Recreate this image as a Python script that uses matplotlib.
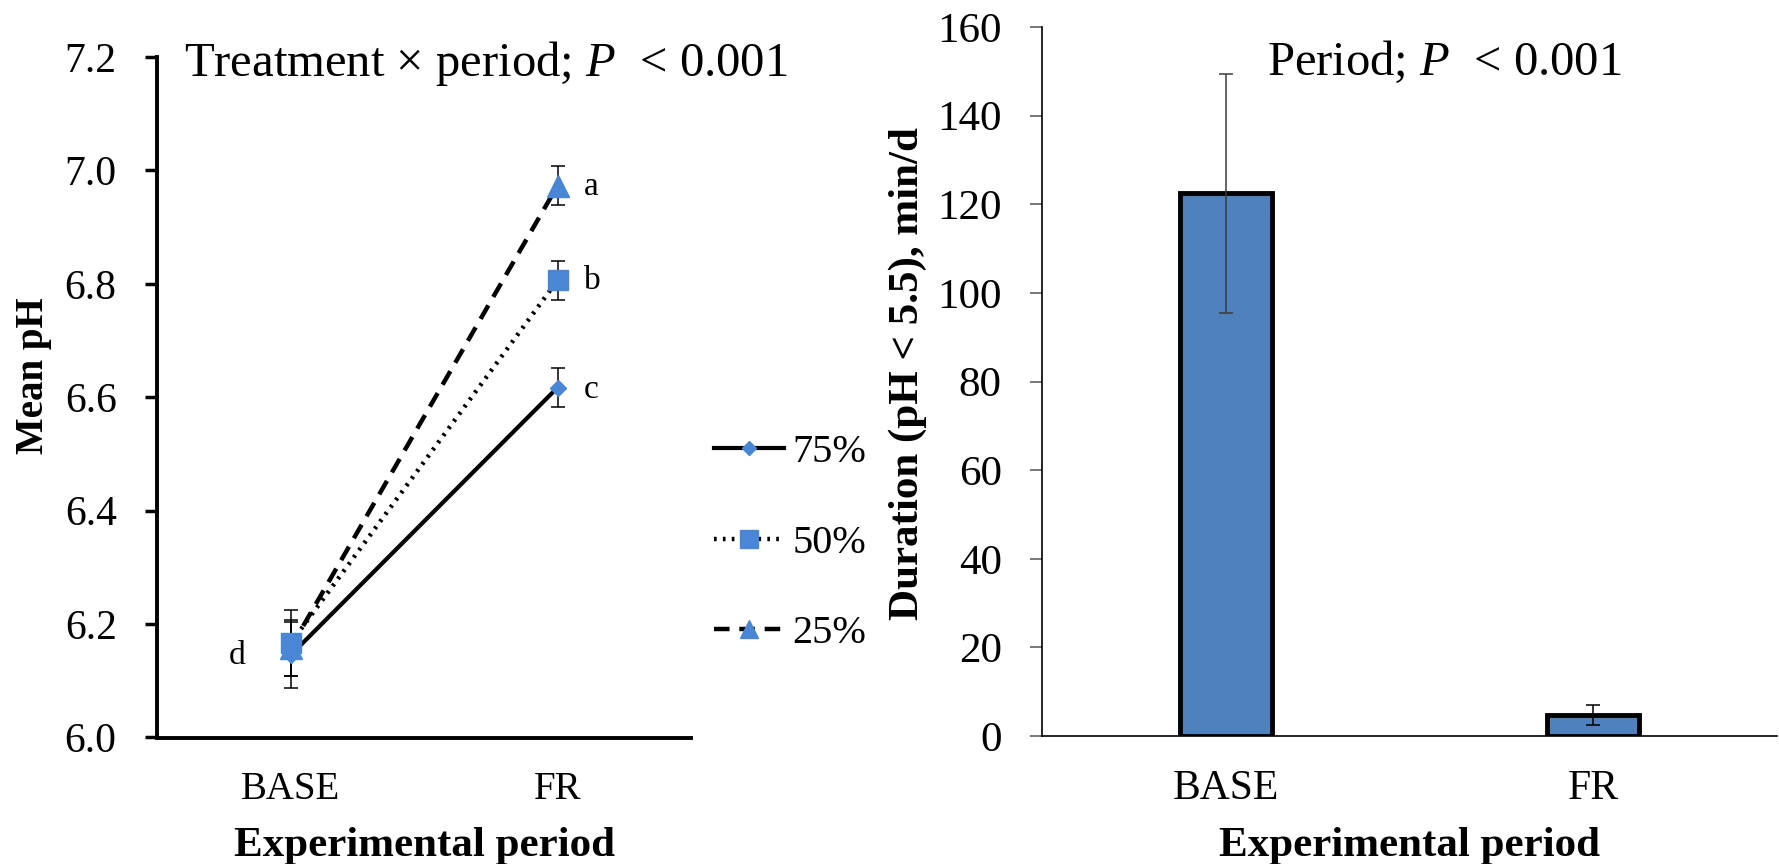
"""Ruminal pH by treatment and period: mean pH lines + duration below pH 5.5 bars."""
import matplotlib as mpl
import matplotlib.pyplot as plt
import numpy as np

BLUE_MARK = "#4A86D6"
BLUE_BAR = "#4F81BD"

mpl.rcParams.update(
    {
        "font.family": ["Liberation Serif", "DejaVu Serif"],
        "mathtext.fontset": "custom",
        "mathtext.rm": "Liberation Serif",
        "mathtext.it": "Liberation Serif:italic",
        "axes.spines.top": False,
        "axes.spines.right": False,
    }
)

# left panel: mean pH
periods = ["BASE", "FR"]
treatments = ["75%", "50%", "25%"]
ph_mean = {"75%": [6.145, 6.617], "50%": [6.166, 6.806], "25%": [6.158, 6.973]}
ph_err = {"75%": [0.058, 0.035], "50%": [0.058, 0.034], "25%": [0.050, 0.034]}
letters = ["a", "b", "c", "d"]
letter_y = [6.972, 6.806, 6.614, 6.144]

# right panel: duration pH < 5.5
dur_mean = [122.5, 4.8]
dur_err = [27.0, 2.3]

fig = plt.figure(figsize=(17.79, 8.64), dpi=100)
ax1 = fig.add_axes([157 / 1779, 1 - 737.5 / 864, 534 / 1779, 680.5 / 864])
ax2 = fig.add_axes([1042 / 1779, 1 - 736 / 864, 735 / 1779, 709 / 864])

x = np.arange(len(periods))
styles = {
    "75%": dict(ls="-", marker="D", ms=8, lw=3.0),
    "50%": dict(ls=(0, (0.6, 1.4)), marker="s", ms=15, lw=3.2),
    "25%": dict(ls=(0, (3.5, 2.2)), marker="^", ms=16, lw=3.2),
}
for t in ["25%", "75%", "50%"]:
    ax1.errorbar(x, ph_mean[t], yerr=ph_err[t], fmt="none", ecolor="black",
                 elinewidth=1.1, capsize=5, capthick=1.1, zorder=2)
handles = {}
for t in ["25%", "75%", "50%"]:
    st = styles[t]
    (h,) = ax1.plot(x, ph_mean[t], color="black", ls=st["ls"], lw=st["lw"],
                    marker=st["marker"], ms=st["ms"], mfc=BLUE_MARK, mec=BLUE_MARK,
                    label=t, zorder=3)
    handles[t] = h

for lab, ly, lx in zip(letters, letter_y, [1.1, 1.1, 1.1, -0.17]):
    ax1.text(lx, ly, lab, fontsize=24, ha="left" if lab != "d" else "right", va="center")

ax1.set_xlim(-0.5, 1.5)
ax1.set_ylim(6.0, 7.2)
ax1.set_yticks(np.arange(6.0, 7.21, 0.2))
ax1.set_yticklabels([f"{v:.1f}" for v in np.arange(6.0, 7.21, 0.2)])
ax1.set_xticks(x)
ax1.set_xticklabels(periods)
ax1.tick_params(axis="y", labelsize=30, direction="out", length=9, width=2.5, pad=20)
ax1.tick_params(axis="x", labelsize=28, length=0, pad=24)
for s in ("left", "bottom"):
    ax1.spines[s].set_linewidth(2.8)
ax1.set_xlabel("Experimental period", fontsize=31, fontweight="bold", labelpad=14)
ax1.text(0.05, 0.99, "Treatment $\\times$ period; $P$  < 0.001", transform=ax1.transAxes,
         fontsize=35, ha="left", va="center")

fig.legend([handles[t] for t in treatments], treatments, loc="center left",
           bbox_to_anchor=(714 / 1779, 1 - 543 / 864), frameon=False, fontsize=29,
           handlelength=1.75, handletextpad=0.2, labelspacing=1.32, borderpad=0,
           borderaxespad=0, markerscale=0.85)

fig.text(34 / 1779, 1 - 376 / 864, "Mean pH", rotation=90, fontsize=28,
         fontweight="bold", ha="center", va="center")

# right panel
ax2.bar(x, dur_mean, width=0.25, color=BLUE_BAR, edgecolor="black", linewidth=3.5,
        zorder=2)
for xi, m, e, c in zip(x, dur_mean, dur_err, ["#3a3a3a", "black"]):
    ax2.errorbar(xi, m, yerr=e, fmt="none", ecolor=c, elinewidth=1.1, capsize=5,
                 capthick=1.1, zorder=3)
ax2.set_xlim(-0.5, 1.5)
ax2.set_ylim(0, 160)
ax2.set_yticks(np.arange(0, 161, 20))
ax2.set_xticks(x)
ax2.set_xticklabels(periods)
ax2.tick_params(axis="y", labelsize=31, direction="out", length=9, width=1.2,
                color="#606060", pad=20)
ax2.tick_params(axis="x", labelsize=30, length=0, pad=24)
for s in ("left", "bottom"):
    ax2.spines[s].set_linewidth(1.2)
ax2.set_xlabel("Experimental period", fontsize=31, fontweight="bold", labelpad=14)
ax2.text(0.547, 1 - 35 / 709, "Period; $P$  < 0.001", transform=ax2.transAxes,
         fontsize=35, ha="center", va="center")
fig.text(908 / 1779, 1 - 374 / 864, "Duration (pH < 5.5), min/d", rotation=90,
         fontsize=31, fontweight="bold", ha="center", va="center")

fig.savefig("out.png", dpi=100)
